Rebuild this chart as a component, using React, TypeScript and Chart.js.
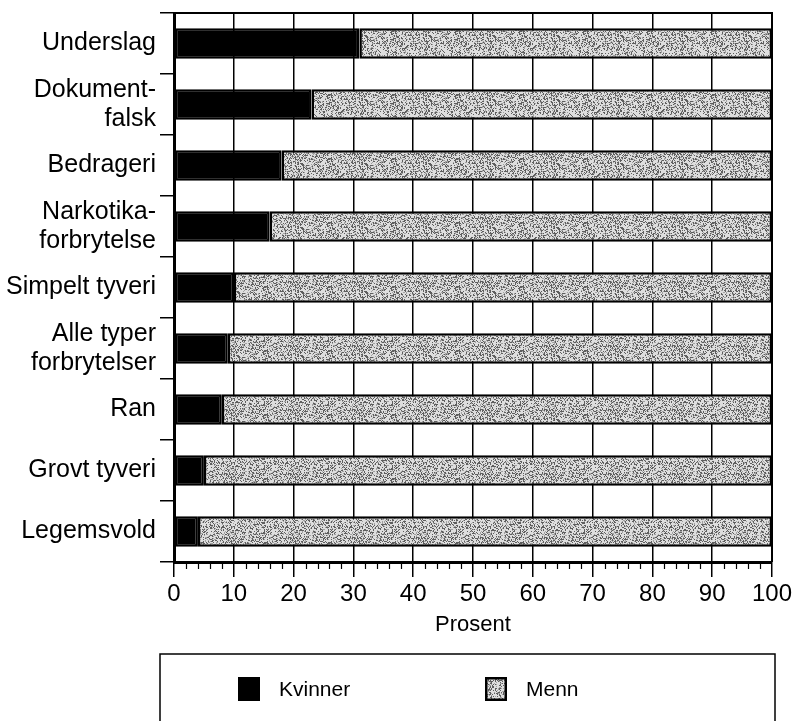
import React, { useEffect, useRef } from "react";
import { Chart, registerables } from "chart.js";

Chart.register(...registerables);

const categories: string[][] = [
  ["Underslag"],
  ["Dokument-", "falsk"],
  ["Bedrageri"],
  ["Narkotika-", "forbrytelse"],
  ["Simpelt tyveri"],
  ["Alle typer", "forbrytelser"],
  ["Ran"],
  ["Grovt tyveri"],
  ["Legemsvold"],
];
const kvinner = [31, 23, 18, 16, 10, 9, 8, 5, 4];
const menn = [69, 77, 82, 84, 90, 91, 92, 95, 96];
const seriesNames = ["Kvinner", "Menn"];
const axisTitle = "Prosent";
const xMin = 0;
const xMax = 100;
const xMajorStep = 10;
const xMinorStep = 2;

const FONT = "'Liberation Sans', Arial, Helvetica, sans-serif";

function makeStipple(): CanvasPattern | string {
  const c = document.createElement("canvas");
  c.width = 64;
  c.height = 64;
  const ctx = c.getContext("2d");
  if (!ctx) return "#bcbcbc";
  ctx.fillStyle = "#dedede";
  ctx.fillRect(0, 0, 64, 64);
  for (let y = 0; y < 64; y++) {
    for (let x = 0; x < 64; x++) {
      const h = ((x * 374761393 + y * 668265263) ^ (x * y * 2654435761)) >>> 0;
      const m = ((h ^ (h >>> 13)) * 1274126177) >>> 0;
      const r = (m % 1000) / 1000;
      if (r < 0.26) {
        ctx.fillStyle = "#5e5e5e";
        ctx.fillRect(x, y, 1, 1);
      } else if (r < 0.4) {
        ctx.fillStyle = "#a2a2a2";
        ctx.fillRect(x, y, 1, 1);
      }
    }
  }
  const p = ctx.createPattern(c, "repeat");
  return p || "#bcbcbc";
}

export default function App() {
  const ref = useRef<HTMLCanvasElement | null>(null);

  useEffect(() => {
    if (!ref.current) return;
    const stipple = makeStipple();

    const framePlugin = {
      id: "frameAndMinor",
      afterDraw(chart: any) {
        const ctx = chart.ctx;
        const { chartArea } = chart;
        const xs = chart.scales.x;
        ctx.save();
        ctx.strokeStyle = "#000";
        // top and right frame
        ctx.lineWidth = 2;
        ctx.beginPath();
        ctx.moveTo(chartArea.left, chartArea.top);
        ctx.lineTo(chartArea.right, chartArea.top);
        ctx.lineTo(chartArea.right, chartArea.bottom);
        ctx.stroke();
        // minor ticks
        ctx.lineWidth = 1.2;
        ctx.beginPath();
        for (let v = xMin; v <= xMax; v += xMinorStep) {
          if (v % xMajorStep === 0) continue;
          const px = Math.round(xs.getPixelForValue(v)) + 0.5;
          ctx.moveTo(px, chartArea.bottom);
          ctx.lineTo(px, chartArea.bottom + 7);
        }
        ctx.stroke();

        // legend
        const boxL = 160, boxR = 775, boxT = 654, boxB = 740;
        ctx.lineWidth = 1.5;
        ctx.strokeRect(boxL, boxT, boxR - boxL, boxB - boxT);
        const items = [
          { x: 238, fill: "#000", label: seriesNames[0] },
          { x: 485, fill: stipple, label: seriesNames[1] },
        ];
        const sy = 677;
        items.forEach((it, i) => {
          ctx.fillStyle = it.fill as any;
          ctx.fillRect(it.x, sy, 22, 24);
          if (i === 1) {
            ctx.lineWidth = 2.5;
            ctx.strokeRect(it.x + 1.25, sy + 1.25, 19.5, 21.5);
          }
          ctx.fillStyle = "#000";
          ctx.font = `21px ${FONT}`;
          ctx.textBaseline = "middle";
          ctx.textAlign = "left";
          ctx.fillText(it.label, it.x + 41, sy + 13);
        });
        ctx.restore();
      },
    };

    const chart = new Chart(ref.current, {
      type: "bar",
      data: {
        labels: categories,
        datasets: [
          {
            label: seriesNames[0],
            data: kvinner,
            backgroundColor: "#000",
            borderColor: "#000",
            borderWidth: 2.5,
            borderSkipped: false,
            barPercentage: 0.5,
            categoryPercentage: 1,
          },
          {
            label: seriesNames[1],
            data: menn,
            backgroundColor: stipple as any,
            borderColor: "#000",
            borderWidth: 2.5,
            borderSkipped: false,
            barPercentage: 0.5,
            categoryPercentage: 1,
          },
        ],
      },
      options: {
        indexAxis: "y",
        animation: false,
        responsive: true,
        maintainAspectRatio: false,
        layout: { padding: { left: 0, right: 28, top: 13, bottom: 84 } },
        plugins: {
          legend: { display: false },
          tooltip: { enabled: false },
        },
        scales: {
          x: {
            type: "linear",
            stacked: true,
            min: xMin,
            max: xMax,
            ticks: {
              stepSize: xMajorStep,
              color: "#000",
              font: { family: FONT, size: 24, lineHeight: 1.1 },
              padding: 4,
            },
            grid: {
              color: "#000",
              lineWidth: 1.5,
              tickLength: 15,
              tickColor: "#000",
              tickWidth: 1.5,
            },
            border: { display: true, color: "#000", width: 3 },
            title: {
              display: true,
              text: axisTitle,
              color: "#000",
              font: { family: FONT, size: 22, lineHeight: 1.1 },
              padding: { top: 0, bottom: 0 },
            },
            afterFit(s: any) {
              s.height = 75;
            },
          },
          y: {
            type: "category",
            stacked: true,
            ticks: {
              color: "#000",
              font: { family: FONT, size: 25, lineHeight: 1.18 },
              padding: 4,
              autoSkip: false,
            },
            grid: {
              offset: true,
              drawOnChartArea: false,
              color: "#000",
              lineWidth: 1.5,
              tickLength: 14,
            },
            border: { display: true, color: "#000", width: 3 },
            afterFit(s: any) {
              s.width = 174;
              s.paddingTop = 0;
              s.paddingBottom = 0;
            },
          },
        },
      },
      plugins: [framePlugin],
    } as any);

    return () => chart.destroy();
  }, []);

  return (
    <div style={{ position: "fixed", left: 0, top: 0, width: 800, height: 721, background: "#fff" }}>
      <canvas ref={ref} />
    </div>
  );
}
